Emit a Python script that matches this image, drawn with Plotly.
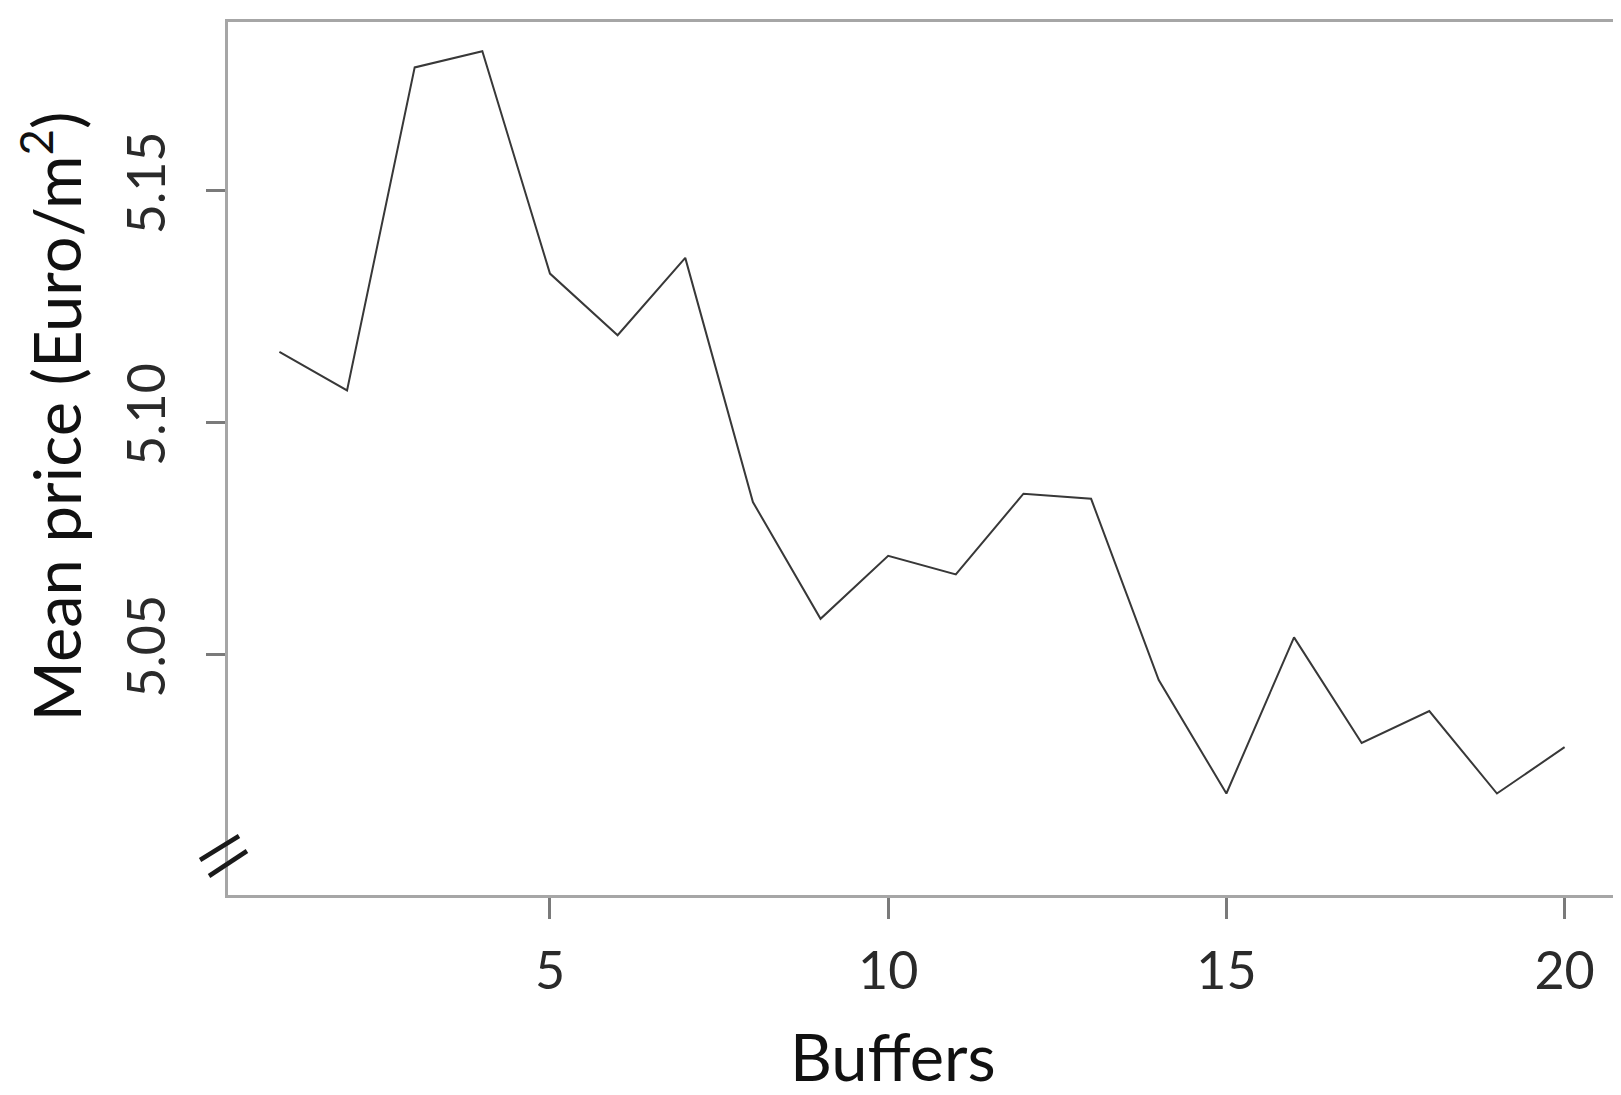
import plotly.graph_objects as go

# ---- data ----
buffers = list(range(1, 21))
mean_price = [5.1152, 5.1069, 5.1766, 5.1801, 5.1321, 5.1188, 5.1355, 5.0828,
              5.0576, 5.0712, 5.0672, 5.0846, 5.0835, 5.0444, 5.0199, 5.0536,
              5.0308, 5.0377, 5.0199, 5.0299]
x_ticks = [5, 10, 15, 20]
y_ticks = [5.05, 5.10, 5.15]
y_tick_text = ["5.05", "5.10", "5.15"]

W, H = 1621, 1095
L, R, T, B = 220, 10, 14, 208
FONT = "Lato"

fig = go.Figure()
fig.add_trace(go.Scatter(x=buffers, y=mean_price, mode="lines",
                         line=dict(color="#383838", width=2),
                         showlegend=False, hoverinfo="x+y"))

axis_common = dict(showline=True, mirror=True, linecolor="#a6a6a6", linewidth=3,
                   showgrid=False, zeroline=False, ticks="outside",
                   tickwidth=3, tickcolor="#7a7a7a",
                   tickfont=dict(family=FONT, size=52, color="#2a2a2a"))

fig.update_xaxes(range=[0.24, 20.76], tickvals=x_ticks, ticklen=21,
                 ticklabelstandoff=8, **axis_common)
fig.update_yaxes(range=[4.998, 5.1864], tickvals=y_ticks, ticktext=y_tick_text,
                 tickangle=-90, ticklen=19, ticklabelstandoff=20, **axis_common)

pw = W - L - R
ph = H - T - B

def px(xp):
    return (xp - L) / pw

def py(yp):
    return (H - B - yp) / ph

shapes = []
for (x0, y0, x1, y1) in [(192, 852, 231, 828), (201, 868, 239, 843)]:
    shapes.append(dict(type="line", xref="paper", yref="paper",
                       x0=px(x0), y0=py(y0), x1=px(x1), y1=py(y1),
                       line=dict(color="#1a1a1a", width=4.5)))

annotations = [
    dict(text="Buffers", xref="paper", yref="paper", x=px(886), y=py(1048),
         xanchor="center", yanchor="middle", showarrow=False, borderpad=0,
         font=dict(family=FONT, size=65, color="#111111")),
    dict(text="Mean price (Euro/m<sup>2</sup>)", xref="paper", yref="paper",
         x=px(43), y=py(408), xanchor="center", yanchor="middle", textangle=-90,
         showarrow=False, borderpad=0,
         font=dict(family=FONT, size=65, color="#111111")),
]

fig.update_layout(width=W, height=H, autosize=False,
                  margin=dict(l=L, r=R, t=T, b=B, pad=0),
                  paper_bgcolor="white", plot_bgcolor="white",
                  shapes=shapes, annotations=annotations,
                  font=dict(family=FONT))

fig.write_html("out.html")
